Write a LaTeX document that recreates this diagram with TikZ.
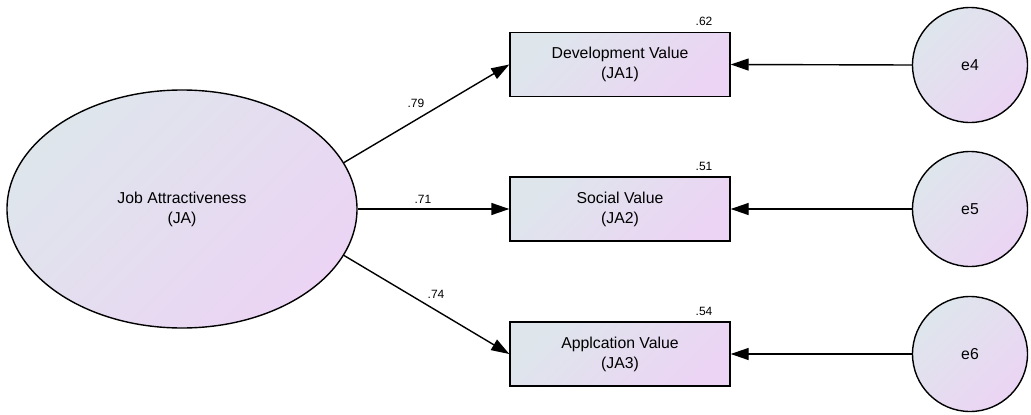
\documentclass[tikz,border=0pt]{standalone}
\usepackage{fontspec}
\setmainfont{Liberation Sans}
\usetikzlibrary{shapes.geometric,arrows.meta}
\definecolor{gA}{RGB}{222,230,236}
\definecolor{gB}{RGB}{235,212,244}
\tikzset{
  grad/.style={draw=black, line width=1.4pt, top color=gA, bottom color=gB, shading angle=45},
  latent/.style={grad, ellipse, minimum width=350pt, minimum height=238pt, inner sep=0pt, align=center,
    font=\fontsize{15.8}{20}\selectfont},
  obsbox/.style={grad, rectangle, minimum width=220pt, minimum height=64pt, inner sep=0pt, align=center,
    font=\fontsize{15.8}{20}\selectfont},
  errc/.style={grad, circle, minimum size=115pt, inner sep=0pt, font=\fontsize{15.8}{20}\selectfont},
  coef/.style={font=\fontsize{12}{14}\selectfont, inner sep=0pt},
  path/.style={line width=1.4pt, -{Triangle[length=18pt,width=12pt]}}
}
\begin{document}
\begin{tikzpicture}[x=1pt,y=-1pt]
\useasboundingbox (0,0) rectangle (1031,415);
\node[latent] (JA) at (182,209) {Job Attractiveness\\(JA)};
\node[obsbox] (d1) at (620,64.5) {Development Value\\(JA1)};
\node[obsbox] (d2) at (620,209) {Social Value\\(JA2)};
\node[obsbox] (d3) at (620,354) {Applcation Value\\(JA3)};
\node[errc] (e4) at (970,65) {e4};
\node[errc] (e5) at (970,209) {e5};
\node[errc] (e6) at (970,354) {e6};
\draw[path] (JA.16) -- (d1.west);
\draw[path] (JA.east) -- (d2.west);
\draw[path] (JA.-16) -- (d3.west);
\draw[path] (e4.west) -- (d1.east);
\draw[path] (e5.west) -- (d2.east);
\draw[path] (e6.west) -- (d3.east);
\node[coef] (l1) at (416,103) {.79};
\node[coef] (l2) at (423,199) {.71};
\node[coef] (l3) at (436,294) {.74};
\node[coef] (r1) at (704,21) {.62};
\node[coef] (r2) at (704,166) {.51};
\node[coef] (r3) at (704,311) {.54};
\end{tikzpicture}
\end{document}
